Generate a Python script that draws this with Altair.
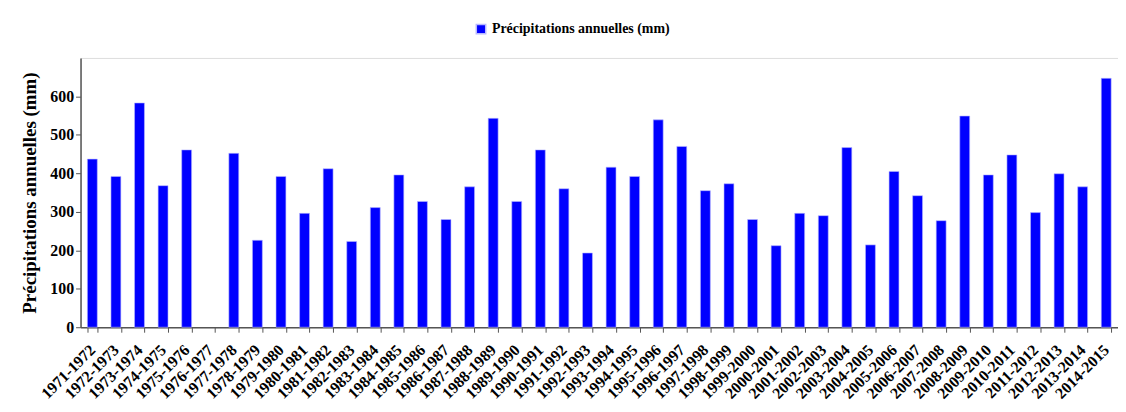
import altair as alt
import pandas as pd

seasons = [f"{y}-{y+1}" for y in range(1971, 2015)]
values = [437, 392, 583, 368, 461, None, 452, 226, 392, 296, 412, 223, 311,
          396, 327, 280, 365, 543, 327, 461, 360, 193, 416, 392, 539, 470, 355, 373,
          280, 212, 296, 290, 467, 214, 405, 342, 277, 549, 396, 448, 298, 399, 365, 647]
series_name = "Précipitations annuelles (mm)"

df = pd.DataFrame({"saison": seasons, "pluie": values, "serie": [series_name] * len(seasons)})

font = "Liberation Serif"

chart = alt.Chart(df).mark_bar(stroke="#B8B8FF", strokeWidth=0.6).encode(
    x=alt.X("saison:N", sort=seasons,
            scale=alt.Scale(domain=seasons, paddingInner=0.58, paddingOuter=0.29),
            axis=alt.Axis(title=None, labelAngle=-45, labelAlign="right", labelBaseline="middle",
                          labelFont=font, labelFontWeight="bold", labelFontSize=16, labelColor="black",
                          labelPadding=15, tickBand="extent", tickSize=5, tickColor="#555555",
                          domainColor="#555555", domainWidth=1.5, labelOverlap=False)),
    y=alt.Y("pluie:Q", scale=alt.Scale(domain=[0, 700]),
            axis=alt.Axis(title="Précipitations annuelles (mm)", values=[0, 100, 200, 300, 400, 500, 600],
                          grid=False, titleFont=font, titleFontWeight="bold", titleFontSize=19,
                          titleColor="black", titlePadding=10,
                          labelFont=font, labelFontWeight="bold", labelFontSize=16, labelColor="black",
                          tickSize=5, tickColor="#555555", domainColor="#555555", domainWidth=1.5)),
    color=alt.Color("serie:N", scale=alt.Scale(range=["#0000FF"]),
                    legend=alt.Legend(title=None, orient="none", legendX=396, legendY=-36,
                                      symbolType="square", symbolSize=90, labelFont=font,
                                      labelFontWeight="bold", labelFontSize=14, labelColor="black",
                                      labelLimit=0)),
).properties(
    width=1044, height=271
).configure_view(
    stroke="#666666", strokeWidth=1.5
).configure(padding={"left": 12, "top": 13, "right": 0, "bottom": 0})

chart.save("out.html", embed_options={"renderer": "svg", "actions": False})
